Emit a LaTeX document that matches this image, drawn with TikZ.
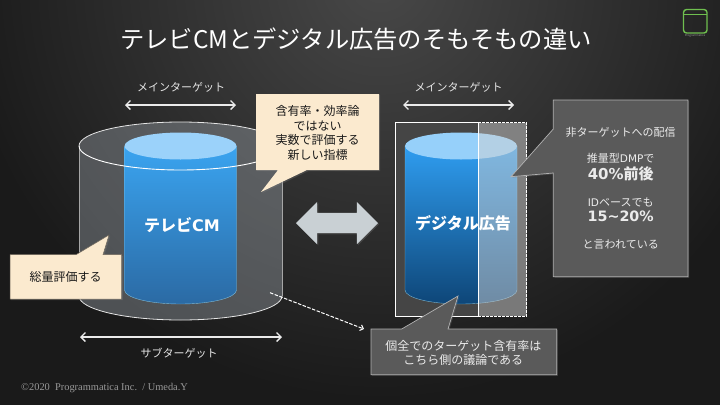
\documentclass[tikz,border=0pt]{standalone}
\usepackage{fontspec}
\setmainfont{Noto Sans CJK JP}
\newfontfamily\latfont{DejaVu Sans}
\newfontfamily\copyfont{Liberation Serif}
\usetikzlibrary{arrows.meta,shapes.arrows,shadows}

\definecolor{bgdark}{HTML}{1A1A1A}
\definecolor{bglight}{HTML}{484848}
\definecolor{creamfill}{HTML}{FBEACF}
\definecolor{slatefill}{HTML}{5A5A5A}
\definecolor{swapgrey}{HTML}{C9D0D4}
\definecolor{logogreen}{HTML}{6FBF4F}
\definecolor{tvtop}{HTML}{3AA4F0}
\definecolor{tvmid}{HTML}{3A96DA}
\definecolor{tvbot}{HTML}{2B6AA4}
\definecolor{tvcap}{HTML}{9BD2FA}
\definecolor{webtop}{HTML}{2F9DF0}
\definecolor{webmid}{HTML}{1F7CC4}
\definecolor{webbot}{HTML}{0E4678}
\definecolor{webcap}{HTML}{96D0FA}
\definecolor{shellfill}{HTML}{A8B0B8}

\newcommand{\fsize}[2]{\fontsize{#1}{#2}\selectfont}

\begin{document}
\begin{tikzpicture}[x=1pt,y=-1pt,
    softshadow/.style={drop shadow={shadow xshift=1.2pt,shadow yshift=-1.2pt,opacity=.3}},
    label/.style={text=white!90!black,font=\fsize{11}{13}},
    span/.style={draw=white!92!black,line width=1.3pt,{Straight Barb[length=4.5pt,width=9pt]}-{Straight Barb[length=4.5pt,width=9pt]}},
    cream/.style={fill=creamfill,draw=creamfill!45!black,line width=.5pt,softshadow},
    slate/.style={fill=slatefill,draw=white!70!black,line width=.7pt,softshadow},
    creamtext/.style={text=black!90,align=center,font=\fsize{12}{14.7}},
    slatetext/.style={text=white!92!black,align=center,font=\fsize{11}{14.5}},
    cylname/.style={text=white,font=\fsize{16}{18}\bfseries}]

    \useasboundingbox (0,0) rectangle (720,405);
    \fill[bgdark] (0,0) rectangle (720,405);
    \begin{scope}
        \clip (0,0) rectangle (720,405);
        \shade[inner color=bglight,outer color=bgdark] (380,-20) circle (420pt);
    \end{scope}

    \node[text=white,font=\fsize{24.3}{26}] (title) at (356,39) {テレビCMとデジタル広告のそもそもの違い};

    \draw[logogreen,line width=1.4pt,rounded corners=3pt] (683.5,9.5) rectangle (707,33);
    \draw[logogreen,line width=1.2pt] (683.5,14.5) -- (707,14.5);
    \node[text=white!60!black,inner sep=0pt,font=\fsize{2.8}{3}] (logotext) at (695,35.5) {Programmatica};

    \fill[shellfill,opacity=.37] (79,146) -- (79,296) arc[start angle=180,end angle=360,x radius=101.5pt,y radius=24pt] -- (282,146) arc[start angle=0,end angle=180,x radius=101.5pt,y radius=24pt] -- cycle;
    \draw[white!65!black,line width=.7pt] (79,146) -- (79,296) (282,146) -- (282,296);
    \draw[white!90!black,line width=.8pt] (79,296) arc[start angle=180,end angle=360,x radius=101.5pt,y radius=24pt];
    \draw[white!90!black,line width=.8pt] (79,146) arc[start angle=180,end angle=0,x radius=101.5pt,y radius=24pt];

    \shade[top color=tvtop,middle color=tvmid,bottom color=tvbot]
        (124.5,146) -- (124.5,290) arc[start angle=180,end angle=360,x radius=56pt,y radius=14pt] -- (236.5,146) -- cycle;
    \draw[cyan!40!white,line width=.4pt,opacity=.7] (124.5,146) -- (124.5,290) arc[start angle=180,end angle=360,x radius=56pt,y radius=14pt] -- (236.5,146);
    \fill[tvcap] (180.5,146) ellipse[x radius=56pt,y radius=13.5pt];

    \draw[white,line width=.9pt] (79,146) arc[start angle=180,end angle=360,x radius=101.5pt,y radius=24pt];

    \node[cylname] (tvcm) at (182,225) {テレビ{\latfont CM}};

    \coordinate (mainLeftA) at (125,105);
    \coordinate (mainLeftB) at (236,105);
    \coordinate (mainRightA) at (403,105);
    \coordinate (mainRightB) at (514,105);
    \coordinate (subA) at (80,337);
    \coordinate (subB) at (282,337);
    \draw[span] (mainLeftA) -- (mainLeftB);
    \draw[span] (mainRightA) -- (mainRightB);
    \draw[span] (subA) -- (subB);
    \node[label] (mainLeftLabel) at (181,87) {メインターゲット};
    \node[label] (mainRightLabel) at (458.7,87) {メインターゲット};
    \node[label] (subLabel) at (179,352.7) {サブターゲット};

    \node[double arrow,fill=swapgrey,minimum height=82pt,minimum width=42pt,inner sep=10pt,
        double arrow head extend=11pt,softshadow] (swap) at (337,223) {};

    \fill[white!27!black] (395.7,122.7) rectangle (478,316);
    \shade[top color=webtop,middle color=webmid,bottom color=webbot]
        (405,146) -- (405,290) arc[start angle=180,end angle=360,x radius=56pt,y radius=14pt] -- (517,146) -- cycle;
    \draw[cyan!40!white,line width=.4pt,opacity=.7] (405,146) -- (405,290) arc[start angle=180,end angle=360,x radius=56pt,y radius=14pt] -- (517,146);
    \fill[webcap] (461,146) ellipse[x radius=56pt,y radius=13.5pt];
    \fill[white!82!black,opacity=.5] (478,122.7) rectangle (526.7,316);
    \draw[white,line width=.9pt,dash pattern=on 2.5pt off 1.5pt] (478,122.7) -- (526.7,122.7) -- (526.7,316) -- (478,316);
    \draw[white,line width=1pt] (395.7,122.7) rectangle (478,316);

    \node[cylname] (digital) at (463,223) {デジタル広告};

    \coordinate (leakA) at (270,292.7);
    \coordinate (leakB) at (364,329);
    \draw[white,line width=1pt,dash pattern=on 3.5pt off 1.5pt,-{Straight Barb[length=3pt,width=6pt]}] (leakA) -- (leakB);

    \draw[cream,draw=none] (256,94) -- (379,94) -- (379,170) -- (307,170) -- (261,192) -- (278,170) -- (256,170) -- cycle;
    \node[creamtext] (newIndex) at (317.5,133) {含有率・効率論\\ではない\\実数で評価する\\新しい指標};

    \draw[cream] (10,254.7) -- (76,254.7) -- (109,235) -- (103,254.7) -- (121.7,254.7) -- (121.7,299) -- (10,299) -- cycle;
    \node[creamtext] (total) at (65.5,277) {総量評価する};

    \draw[slate] (553.3,100) -- (688,100) -- (688,276.7) -- (553.3,276.7) -- (553.3,173) -- (511,176.7) -- (553.3,129) -- cycle;
    \node[slatetext] (nontarget) at (620.7,132.7) {非ターゲットへの配信};
    \node[slatetext] (dmpLabel) at (620.7,158.7) {推量型{\latfont\fsize{10.5}{13}DMP}で};
    \node[slatetext,font=\fsize{15}{17}\bfseries] (dmpValue) at (620.7,174) {{\latfont 40\%}前後};
    \node[slatetext] (idLabel) at (620.7,202) {{\latfont\fsize{10.5}{13}ID}ベースでも};
    \node[slatetext,font=\fsize{14.3}{17}\bfseries\latfont] (idValue) at (620.7,216.7) {15\char"007E 20\%};
    \node[slatetext] (said) at (620.7,245) {と言われている};

    \draw[slate] (371,329) -- (401.7,329) -- (458,296) -- (448,329) -- (556.7,329) -- (556.7,374.7) -- (371,374.7) -- cycle;
    \node[slatetext,font=\fsize{12}{14.4}] (perAll) at (463.3,353) {個全でのターゲット含有率は\\こちら側の議論である};

    \node[anchor=west,inner sep=0pt,text=white!60!black,font=\fsize{10.4}{12}\copyfont] (copyright) at (21,387.7) {©2020\ \ Programmatica Inc.\ \ / Umeda.Y};
\end{tikzpicture}
\end{document}
